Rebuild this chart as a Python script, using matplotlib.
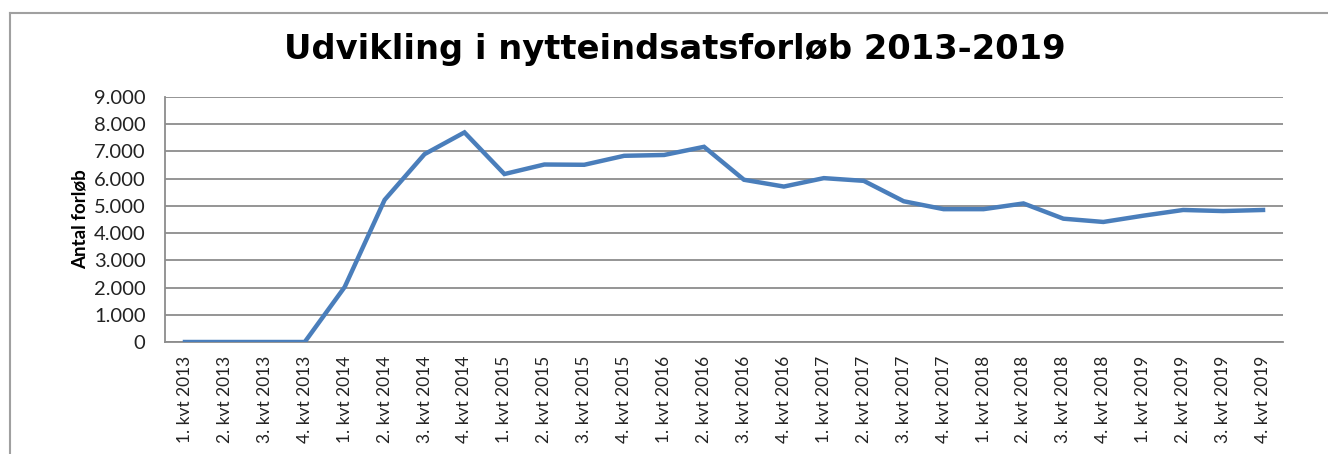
import matplotlib
matplotlib.use("Agg")
import matplotlib.pyplot as plt
from matplotlib.lines import Line2D
from matplotlib.ticker import FuncFormatter

quarters = [f"{q}. kvt {y}" for y in range(2013, 2020) for q in range(1, 5)]
values = [0, 0, 0, 0,
          2020, 5220, 6900, 7700,
          6170, 6520, 6510, 6840,
          6870, 7170, 5960, 5710,
          6020, 5920, 5170, 4880,
          4880, 5090, 4530, 4410,
          4640, 4850, 4810, 4850]
yticks = list(range(0, 9001, 1000))

fig = plt.figure(figsize=(13.28, 4.54), dpi=100)
W, H = 1328, 454
ax = fig.add_axes([165 / W, 1 - 342 / H, (1283 - 165) / W, (342 - 97) / H])

x = list(range(len(quarters)))
ax.plot(x, values, color="#4a7ebb", lw=3.2, solid_joinstyle="miter", zorder=3)
ax.set_xlim(-0.5, len(quarters) - 0.5)
ax.set_ylim(0, 9000)
ax.set_yticks(yticks)
ax.yaxis.set_major_formatter(FuncFormatter(lambda v, p: f"{int(v):,}".replace(",", ".")))
ax.grid(axis="y", color="#8c8c8c", lw=1.3)
ax.set_axisbelow(True)
ax.set_xticks(x)
ax.set_xticklabels(quarters, rotation=90, fontsize=12.5, family="Lato", color="#222222")
for lab in ax.get_yticklabels():
    lab.set_family("Lato")
    lab.set_fontsize(14.5)
    lab.set_color("#222222")
ax.tick_params(axis="y", length=0, pad=14)
ax.tick_params(axis="x", length=0, pad=10)
for s in ["top", "right"]:
    ax.spines[s].set_visible(False)
ax.spines["left"].set_color("#8c8c8c")
ax.spines["bottom"].set_color("#8c8c8c")
ax.spines["left"].set_linewidth(1.3)
ax.spines["bottom"].set_linewidth(1.3)
ax.set_ylabel("Antal forløb", fontsize=13.5, fontweight="bold", family="Lato")
ax.yaxis.set_label_coords((89 - 165) / (1283 - 165), 0.5)

fig.text(675 / W, 1 - 50 / H, "Udvikling i nytteindsatsforløb 2013-2019",
         ha="center", va="center", fontsize=24.3, fontweight="bold", family="DejaVu Sans")

# outer frame (left and top edges visible)
fig.add_artist(Line2D([10 / W, 10 / W], [0, 1 - 13 / H], transform=fig.transFigure, color="#a0a0a0", lw=1.5))
fig.add_artist(Line2D([10 / W, 1], [1 - 13 / H, 1 - 13 / H], transform=fig.transFigure, color="#a0a0a0", lw=1.5))

fig.savefig("out.png", dpi=100)
